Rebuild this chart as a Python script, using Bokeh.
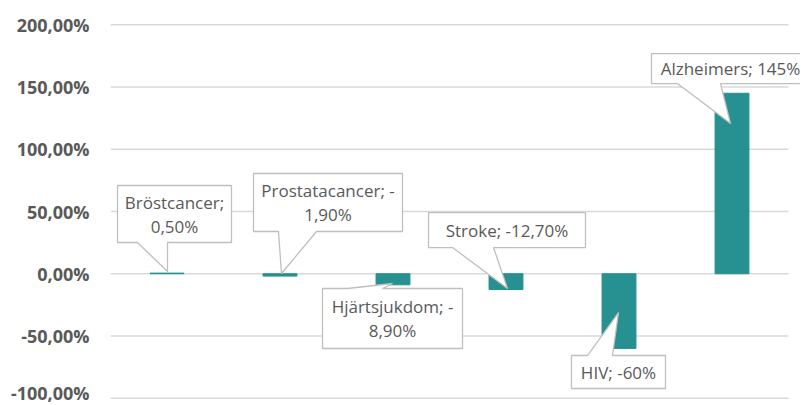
from bokeh.plotting import figure
from bokeh.models import Range1d, FixedTicker
from bokeh.embed import file_html
from bokeh.resources import INLINE
from bokeh.core.properties import value

# ---------------- data ----------------
categories = ["Bröstcancer", "Prostatacancer", "Hjärtsjukdom", "Stroke", "HIV", "Alzheimers"]
changes = [0.5, -1.9, -8.9, -12.7, -60.0, 145.0]
label_lines = [
    ["Bröstcancer;", "0,50%"],
    ["Prostatacancer; -", "1,90%"],
    ["Hjärtsjukdom; -", "8,90%"],
    ["Stroke; -12,70%"],
    ["HIV; -60%"],
    ["Alzheimers; 145%"],
]
y_ticks = [-100, -50, 0, 50, 100, 150, 200]

# ---------------- layout / style ----------------
W, H = 800, 404
LEFT, RIGHT, TOP, BOTTOM = 110, 0, 22, 4
frame_w = W - LEFT - RIGHT
frame_h = H - TOP - BOTTOM
cat_px = 113.0                      # pixels per category slot
x_end = frame_w / cat_px
y_start, y_end = -101.85, 201.85
py = frame_h / (y_end - y_start)    # pixels per percent

BAR_COLOR = "#279090"
GRID_COLOR = "#D9D9D9"
TEXT_COLOR = "#595959"
BOX_LINE = "#BFBFBF"
FONT = "Open Sans"
LABEL_SIZE = 17
LINE_GAP = 24

# callout geometry in screen pixels, relative to (bar centre, bar value)
# tip=(dx,dy), box=(left, top, right, bottom), pointer edge & base x-span
callouts = [
    dict(tip=(0.5, -1.6), box=(-49.5, -87.6, 64.5, -30.6), edge="bottom", base=(-29.5, 0.5)),
    dict(tip=(1.5, -2.6), box=(-26.5, -102.6, 122.5, -44.6), edge="bottom", base=(-1.5, 36.5)),
    dict(tip=(-0.5, -1.3), box=(-70.5, 3.7, 69.5, 63.7), edge="top", base=(-45.5, -10.5)),
    dict(tip=(1.5, -1.0), box=(-77.5, -77.0, 79.5, -42.0), edge="bottom", base=(-53.5, -12.5)),
    dict(tip=(-0.5, -35.9), box=(-47.5, 7.1, 46.5, 40.1), edge="top", base=(-31.5, -6.5)),
    dict(tip=(-1.5, 30.3), box=(-80.5, -39.7, 77.5, -9.7), edge="bottom", base=(-54.5, -11.5)),
]

p = figure(width=W, height=H, output_backend="svg", toolbar_location=None,
           x_range=Range1d(0, x_end), y_range=Range1d(y_start, y_end),
           min_border_left=LEFT, min_border_right=RIGHT,
           min_border_top=TOP, min_border_bottom=BOTTOM)
p.outline_line_color = None
p.background_fill_color = "white"
p.border_fill_color = "white"
p.xaxis.visible = False
p.xgrid.visible = False
p.ygrid.visible = False

yax = p.yaxis[0]
yax.ticker = FixedTicker(ticks=y_ticks)
yax.major_label_overrides = {t: f"{t:.2f}".replace(".", ",") + "%" for t in y_ticks}
yax.axis_line_color = None
yax.major_tick_line_color = None
yax.minor_tick_line_color = None
yax.major_tick_out = 0
yax.major_tick_in = 0
yax.major_label_standoff = 21
yax.major_label_text_font = FONT
yax.major_label_text_font_style = "bold"
yax.major_label_text_font_size = "18px"
yax.major_label_text_color = TEXT_COLOR

# gridlines
p.segment(x0=[0] * len(y_ticks), x1=[len(categories)] * len(y_ticks), y0=y_ticks, y1=y_ticks,
          line_color=GRID_COLOR, line_width=1.5)

xs = [i + 0.5 for i in range(len(categories))]
p.vbar(x=xs, top=changes, bottom=0, width=0.3, fill_color=BAR_COLOR, line_color=BAR_COLOR)

def to_data(cx, v, dx, dy):
    return cx + dx / cat_px, v - dy / py

pxs, pys = [], []
tx, ty, tt = [], [], []
for cx, v, c, lines in zip(xs, changes, callouts, label_lines):
    l, t, r, b = c["box"]
    b0, b1 = c["base"]
    tip = c["tip"]
    if c["edge"] == "bottom":
        pts = [(l, t), (r, t), (r, b), (b1, b), tip, (b0, b), (l, b)]
    else:
        pts = [(l, t), (b0, t), tip, (b1, t), (r, t), (r, b), (l, b)]
    dpts = [to_data(cx, v, dx, dy) for dx, dy in pts]
    pxs.append([q[0] for q in dpts])
    pys.append([q[1] for q in dpts])
    mx = (l + r) / 2
    my = (t + b) / 2
    n = len(lines)
    for k, line in enumerate(lines):
        oy = my + (k - (n - 1) / 2) * LINE_GAP
        X, Y = to_data(cx, v, mx, oy)
        tx.append(X); ty.append(Y); tt.append(line)

p.patches(xs=pxs, ys=pys, fill_color="white", line_color=BOX_LINE, line_width=1.3)
p.text(x=tx, y=ty, text=tt, text_align="center", text_baseline="middle",
       text_font=value(FONT), text_font_size=f"{LABEL_SIZE}px", text_color=TEXT_COLOR)

open("out.html", "w").write(file_html(p, INLINE))
